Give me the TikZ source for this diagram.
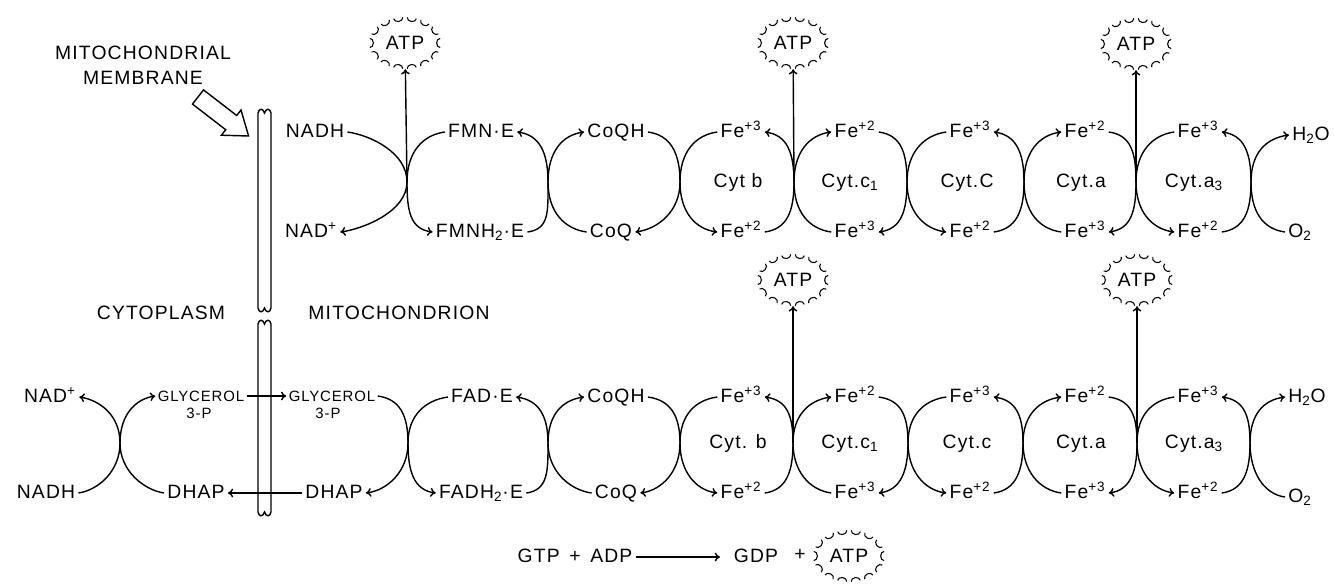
\documentclass[tikz,border=0pt]{standalone}
\usepackage{fontspec}
\setmainfont{Liberation Sans}[LetterSpace=6]
\usetikzlibrary{arrows.meta,shapes.geometric,decorations.markings}
\newcommand{\feup}[1]{Fe\textsuperscript{+#1}}
\begin{document}
\begin{tikzpicture}[x=0.02cm, y=-0.02cm, line width=0.8pt, >={To[length=3pt,width=5pt]},
  lab/.style={inner sep=1.5pt, text height=8pt, text depth=1.5pt, font=\fontsize{11}{13}\selectfont},
  small/.style={inner sep=1pt, font=\fontsize{8.5}{10}\selectfont},
  head/.style={align=center, font=\fontsize{11}{14}\selectfont},
  atp/.style={ellipse, minimum width=40pt, minimum height=29pt, inner sep=0pt, font=\fontsize{11}{13}\selectfont,
    postaction={decorate, decoration={markings, mark=between positions 0 and 0.96 step 0.0714 with
      {\draw[line width=0.6pt] (-2.6pt,0) arc[start angle=180, end angle=0, x radius=2.6pt, y radius=2pt];}}}}]
\useasboundingbox (0,0) rectangle (1334,583);

\node[head] (memb) at (143,65) {MITOCHONDRIAL\\MEMBRANE};
\node[head] (cyto) at (161,313) {CYTOPLASM};
\node[head] (mito) at (399,313) {MITOCHONDRION};
\draw (203.5,89.9) -- (236.7,115.5) -- (241,110) -- (248.6,136) -- (221.4,135.2) -- (225.7,129.7) -- (192.5,104.1) -- cycle;
\draw (258,113) .. controls (259,108) and (263,108) .. (264.5,113) .. controls (266,108) and (270,108) .. (271,113) -- (271,308)
  .. controls (270,313) and (266,313) .. (264.5,308) .. controls (263,313) and (259,313) .. (258,308) -- cycle;
\draw (258,324) .. controls (259,319) and (263,319) .. (264.5,324) .. controls (266,319) and (270,319) .. (271,324) -- (271,512)
  .. controls (270,517) and (266,517) .. (264.5,512) .. controls (263,517) and (259,517) .. (258,512) -- cycle;

\node[lab] (tnadh) at (315,132) {NADH};
\node[lab] (tnad) at (311,232) {NAD\textsuperscript{+}};
\node[lab] (tfmn) at (481,132) {FMN·E};
\node[lab] (tfmnh) at (480,232) {FMNH\textsubscript{2}·E};
\node[lab] (tcoqh) at (616,132) {CoQH};
\node[lab] (tcoq) at (611,232) {CoQ};
\node[lab] (tu1) at (741,132) {\feup{3}};
\node[lab] (tu2) at (855,132) {\feup{2}};
\node[lab] (tu3) at (970,132) {\feup{3}};
\node[lab] (tu4) at (1085,132) {\feup{2}};
\node[lab] (tu5) at (1198,132) {\feup{3}};
\node[lab] (tl1) at (741,232) {\feup{2}};
\node[lab] (tl2) at (855,232) {\feup{3}};
\node[lab] (tl3) at (970,232) {\feup{2}};
\node[lab] (tl4) at (1085,232) {\feup{3}};
\node[lab] (tl5) at (1198,232) {\feup{2}};
\node[lab] (th2o) at (1311,135) {H\textsubscript{2}O};
\node[lab] (to2) at (1300,232) {O\textsubscript{2}};
\node[lab] (tcytb) at (738,182) {Cyt b};
\node[lab] (tcytc1) at (850,182) {Cyt.c\textsubscript{1}};
\node[lab] (tcytc) at (967,182) {Cyt.C};
\node[lab] (tcyta) at (1081,182) {Cyt.a};
\node[lab] (tcyta3) at (1194,182) {Cyt.a\textsubscript{3}};
\coordinate (tj1) at (407,182);
\coordinate (tj2) at (548,182);
\coordinate (tj3) at (680,182);
\coordinate (tj4) at (794,182);
\coordinate (tj5) at (907,182);
\coordinate (tj6) at (1024,182);
\coordinate (tj7) at (1136,182);
\coordinate (tj8) at (1251,182);
\node[atp] (tatp1) at (405,43) {ATP};
\node[atp] (tatp2) at (793,43) {ATP};
\node[atp] (tatp3) at (1136,44) {ATP};
\draw[->] (tnadh.east) .. controls +(22,3) and +(0,-30) .. (tj1) .. controls +(0,30) and +(22,-3) .. (tnad.east);
\draw[->] (tfmn.west) .. controls +(-22,3) and +(0,-30) .. (tj1) .. controls +(0,30) and +(-22,-3) .. (tfmnh.west);
\draw[->] (tfmnh.east) .. controls +(22,-3) and +(0,30) .. (tj2) .. controls +(0,-30) and +(22,3) .. (tfmn.east);
\draw[->] (tcoq.west) .. controls +(-22,-3) and +(0,30) .. (tj2) .. controls +(0,-30) and +(-22,3) .. (tcoqh.west);
\draw[->] (tcoqh.east) .. controls +(22,3) and +(0,-30) .. (tj3) .. controls +(0,30) and +(22,-3) .. (tcoq.east);
\draw[->] (tu1.west) .. controls +(-22,3) and +(0,-30) .. (tj3) .. controls +(0,30) and +(-22,-3) .. (tl1.west);
\draw[->] (tl1.east) .. controls +(22,-3) and +(0,30) .. (tj4) .. controls +(0,-30) and +(22,3) .. (tu1.east);
\draw[->] (tl2.west) .. controls +(-22,-3) and +(0,30) .. (tj4) .. controls +(0,-30) and +(-22,3) .. (tu2.west);
\draw[->] (tu2.east) .. controls +(22,3) and +(0,-30) .. (tj5) .. controls +(0,30) and +(22,-3) .. (tl2.east);
\draw[->] (tu3.west) .. controls +(-22,3) and +(0,-30) .. (tj5) .. controls +(0,30) and +(-22,-3) .. (tl3.west);
\draw[->] (tl3.east) .. controls +(22,-3) and +(0,30) .. (tj6) .. controls +(0,-30) and +(22,3) .. (tu3.east);
\draw[->] (tl4.west) .. controls +(-22,-3) and +(0,30) .. (tj6) .. controls +(0,-30) and +(-22,3) .. (tu4.west);
\draw[->] (tu4.east) .. controls +(22,3) and +(0,-30) .. (tj7) .. controls +(0,30) and +(22,-3) .. (tl4.east);
\draw[->] (tu5.west) .. controls +(-22,3) and +(0,-30) .. (tj7) .. controls +(0,30) and +(-22,-3) .. (tl5.west);
\draw[->] (tl5.east) .. controls +(22,-3) and +(0,30) .. (tj8) .. controls +(0,-30) and +(22,3) .. (tu5.east);
\draw[->] (to2.west) .. controls +(-22,-3) and +(0,30) .. (tj8) .. controls +(0,-30) and +(-22,3) .. (th2o.west);
\draw[->] (tj1) -- (tatp1);
\draw[->] (tj4) -- (tatp2);
\draw[->] (tj7) -- (tatp3);

\node[lab] (snad) at (50,397) {NAD\textsuperscript{+}};
\node[lab] (snadh) at (46,493) {NADH};
\node[small] (sgly) at (201,396) {GLYCEROL};
\node[small] (sglyp) at (199,413) {3-P};
\node[lab] (sdhap) at (196,493) {DHAP};
\node[small] (mgly) at (332,396) {GLYCEROL};
\node[small] (mglyp) at (328,413) {3-P};
\node[lab] (mdhap) at (334,493) {DHAP};
\node[lab] (sfad) at (482,397) {FAD·E};
\node[lab] (sfadh) at (481,493) {FADH\textsubscript{2}·E};
\node[lab] (scoqh) at (616,397) {CoQH};
\node[lab] (scoq) at (616,493) {CoQ};
\node[lab] (su1) at (741,397) {\feup{3}};
\node[lab] (su2) at (855,397) {\feup{2}};
\node[lab] (su3) at (970,397) {\feup{3}};
\node[lab] (su4) at (1085,397) {\feup{2}};
\node[lab] (su5) at (1198,397) {\feup{3}};
\node[lab] (sl1) at (741,493) {\feup{2}};
\node[lab] (sl2) at (855,493) {\feup{3}};
\node[lab] (sl3) at (970,493) {\feup{2}};
\node[lab] (sl4) at (1085,493) {\feup{3}};
\node[lab] (sl5) at (1198,493) {\feup{2}};
\node[lab] (sh2o) at (1307,397) {H\textsubscript{2}O};
\node[lab] (so2) at (1300,497) {O\textsubscript{2}};
\node[lab] (scytb) at (738,443) {Cyt. b};
\node[lab] (scytc1) at (850,443) {Cyt.c\textsubscript{1}};
\node[lab] (scytc) at (967,443) {Cyt.c};
\node[lab] (scyta) at (1081,443) {Cyt.a};
\node[lab] (scyta3) at (1194,443) {Cyt.a\textsubscript{3}};
\coordinate (sj0) at (120,443);
\coordinate (sj1) at (408,443);
\coordinate (sj2) at (548,443);
\coordinate (sj3) at (680,443);
\coordinate (sj4) at (793,443);
\coordinate (sj5) at (908,443);
\coordinate (sj6) at (1023,443);
\coordinate (sj7) at (1137,443);
\coordinate (sj8) at (1250,443);
\node[atp] (satp1) at (793,280) {ATP};
\node[atp] (satp2) at (1137,280) {ATP};
\draw[->] (snadh.east) .. controls +(20,-3) and +(0,28) .. (sj0) .. controls +(0,-28) and +(20,3) .. (snad.east);
\draw[->] (sdhap.west) .. controls +(-20,-3) and +(0,28) .. (sj0) .. controls +(0,-28) and +(-20,3) .. (sgly.west);
\draw[->] (sgly) -- (mgly);
\draw[->] (mdhap) -- (sdhap);
\draw[->] (mgly.east) .. controls +(22,3) and +(0,-28) .. (sj1) .. controls +(0,28) and +(22,-3) .. (mdhap.east);
\draw[->] (sfad.west) .. controls +(-22,3) and +(0,-28) .. (sj1) .. controls +(0,28) and +(-22,-3) .. (sfadh.west);
\draw[->] (sfadh.east) .. controls +(22,-3) and +(0,28) .. (sj2) .. controls +(0,-28) and +(22,3) .. (sfad.east);
\draw[->] (scoq.west) .. controls +(-22,-3) and +(0,28) .. (sj2) .. controls +(0,-28) and +(-22,3) .. (scoqh.west);
\draw[->] (scoqh.east) .. controls +(22,3) and +(0,-28) .. (sj3) .. controls +(0,28) and +(22,-3) .. (scoq.east);
\draw[->] (su1.west) .. controls +(-22,3) and +(0,-28) .. (sj3) .. controls +(0,28) and +(-22,-3) .. (sl1.west);
\draw[->] (sl1.east) .. controls +(22,-3) and +(0,28) .. (sj4) .. controls +(0,-28) and +(22,3) .. (su1.east);
\draw[->] (sl2.west) .. controls +(-22,-3) and +(0,28) .. (sj4) .. controls +(0,-28) and +(-22,3) .. (su2.west);
\draw[->] (su2.east) .. controls +(22,3) and +(0,-28) .. (sj5) .. controls +(0,28) and +(22,-3) .. (sl2.east);
\draw[->] (su3.west) .. controls +(-22,3) and +(0,-28) .. (sj5) .. controls +(0,28) and +(-22,-3) .. (sl3.west);
\draw[->] (sl3.east) .. controls +(22,-3) and +(0,28) .. (sj6) .. controls +(0,-28) and +(22,3) .. (su3.east);
\draw[->] (sl4.west) .. controls +(-22,-3) and +(0,28) .. (sj6) .. controls +(0,-28) and +(-22,3) .. (su4.west);
\draw[->] (su4.east) .. controls +(22,3) and +(0,-28) .. (sj7) .. controls +(0,28) and +(22,-3) .. (sl4.east);
\draw[->] (su5.west) .. controls +(-22,3) and +(0,-28) .. (sj7) .. controls +(0,28) and +(-22,-3) .. (sl5.west);
\draw[->] (sl5.east) .. controls +(22,-3) and +(0,28) .. (sj8) .. controls +(0,-28) and +(22,3) .. (su5.east);
\draw[->] (so2.west) .. controls +(-22,-3) and +(0,28) .. (sj8) .. controls +(0,-28) and +(-22,3) .. (sh2o.west);
\draw[->] (sj4) -- (satp1);
\draw[->] (sj7) -- (satp2);

\node[lab] (gtp) at (575,557) {GTP\enspace+\enspace ADP};
\node[lab] (gdp) at (756,557) {GDP};
\node[lab] (plus) at (800,555) {+};
\node[atp] (eatp) at (849,556) {ATP};
\draw[->, shorten >=6pt] (gtp) -- (gdp);
\end{tikzpicture}
\end{document}
